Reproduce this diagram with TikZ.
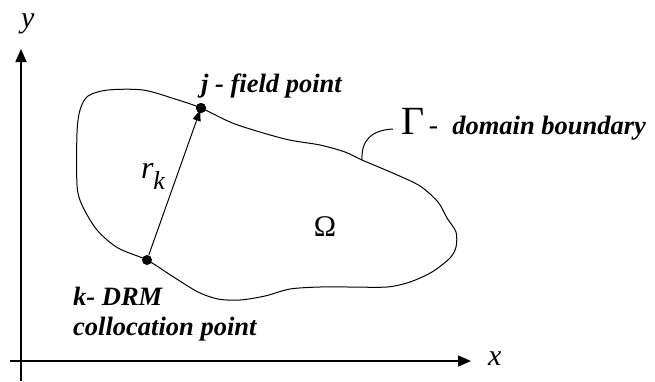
\documentclass[tikz,border=0pt]{standalone}
\usepackage{fontspec}
\setmainfont{Liberation Serif}
\usetikzlibrary{arrows.meta}
\begin{document}
\begin{tikzpicture}[x=1pt,y=-1pt,
  axis/.style={line width=1.6pt,-{Triangle[length=13pt,width=11pt]}},
  bnd/.style={line width=1pt},
  dot/.style={circle,fill=black,inner sep=0pt,minimum size=10pt},
  lbl/.style={font=\fontsize{26.5}{30}\selectfont\bfseries\itshape,inner sep=0pt,anchor=west},
  ax/.style={font=\fontsize{30}{32}\selectfont\itshape,inner sep=0pt,anchor=base west}]
\useasboundingbox (0,0) rectangle (655,381);
% axes
\coordinate (yb) at (21,381);
\coordinate (yt) at (21,49);
\coordinate (xl) at (10,361);
\coordinate (xr) at (471,361);
\draw[axis] (yb) -- (yt);
\draw[axis] (xl) -- (xr);
\node[ax] (ylab) at (21,27) {y};
\node[ax] (xlab) at (488,365) {x};
% domain boundary
\draw[bnd] plot[smooth cycle, tension=0.5] coordinates {
 (88,96) (108,90) (143,90) (175,99) (201,108) (235,124) (285,139) (320,145)
 (345,152) (362,160) (395,174) (420,186) (438,202) (447,218) (456,232) (456,247)
 (450,258) (432,272) (410,282) (387,287) (350,287) (320,287) (290,289) (265,296)
 (240,300) (218,299) (198,292) (172,276) (147,260) (118,248) (97,230) (82,205)
 (77,185) (77,133) (80,110)};
% leader from boundary to Gamma label
\coordinate (lb) at (362,160);
\coordinate (le) at (393,129);
\draw[line width=1pt] (lb) .. controls (361,140) and (372,130) .. (le);
% points
\node[dot] (j) at (201,108) {};
\node[dot] (k) at (147,260) {};
\draw[line width=1pt,-{Triangle[length=11pt,width=8pt]},shorten >=2pt] (k) -- (j.center);
\node[dot] at (j) {};
% labels
\node[lbl] (jl) at (201,86) {j - field point};
\node[inner sep=0pt,anchor=west] (gl) at (401,124) {\fontsize{40}{42}\selectfont Γ\fontsize{28}{30}\selectfont\,-\ \ \bfseries\itshape\fontsize{26.5}{30}\selectfont domain boundary};
\node[inner sep=0pt] (om) at (325,227) {\fontsize{30}{32}\selectfont Ω};
\node[inner sep=0pt] (rk) at (153,176) {\fontsize{32}{34}\selectfont\itshape r\raisebox{-11pt}{\fontsize{26}{28}\selectfont k}};
\node[lbl,align=left,anchor=north west] (kl) at (73,287) {k- DRM\\collocation point};
\end{tikzpicture}
\end{document}
